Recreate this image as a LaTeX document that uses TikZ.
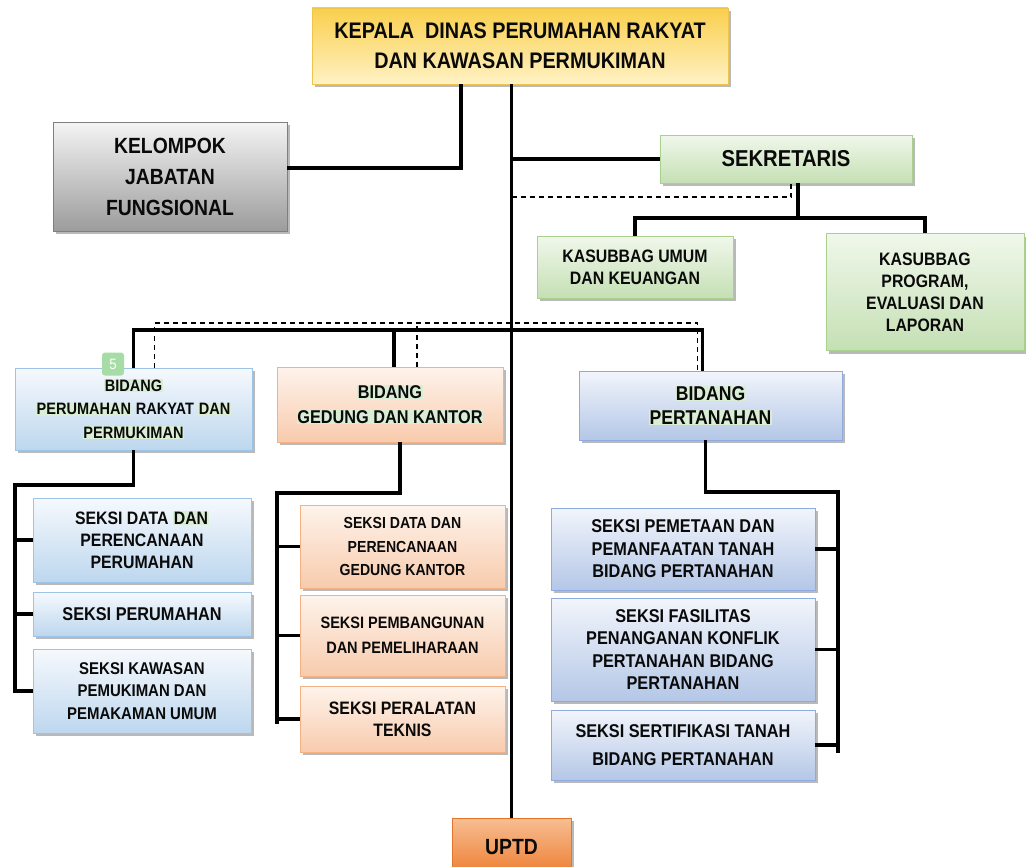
\documentclass[tikz,border=0pt]{standalone}
\usepackage{fontspec}
\setmainfont{Liberation Sans}[FakeStretch=0.88]
\usetikzlibrary{shadows}
\definecolor{txt}{HTML}{0A0A0A}
\definecolor{ylT}{HTML}{F9CF4C}
\definecolor{ylB}{HTML}{FFF2C4}
\definecolor{ylD}{HTML}{EFC44E}
\definecolor{gyT}{HTML}{F4F4F4}
\definecolor{gyB}{HTML}{9C9C9C}
\definecolor{gyD}{HTML}{7F7F7F}
\definecolor{grT}{HTML}{F0F7EB}
\definecolor{grB}{HTML}{C5E0B4}
\definecolor{grD}{HTML}{A9D18E}
\definecolor{blT}{HTML}{F6F9FD}
\definecolor{blB}{HTML}{BDD7EE}
\definecolor{blD}{HTML}{9DC3E6}
\definecolor{orT}{HTML}{FEF3EB}
\definecolor{orB}{HTML}{F8CBAD}
\definecolor{orD}{HTML}{F4B183}
\definecolor{puT}{HTML}{F2F5FB}
\definecolor{puB}{HTML}{B4C7E7}
\definecolor{puD}{HTML}{8FAADC}
\definecolor{upT}{HTML}{F7BE93}
\definecolor{upB}{HTML}{ED7D31}
\definecolor{upD}{HTML}{E2762C}
\definecolor{hlgreen}{HTML}{D9EED5}
\definecolor{badgegreen}{HTML}{A6DDA6}
\newcommand{\hlg}[1]{{\setlength{\fboxsep}{0.8pt}\colorbox{hlgreen}{#1}}}
\newcommand{\fs}[2]{\bfseries\fontsize{#1}{#2}\selectfont}
\tikzset{
  box/.style={draw, line width=0.9pt, align=center, inner sep=2pt, text=txt,
    drop shadow={shadow xshift=3pt, shadow yshift=-3pt, fill=black!50, opacity=0.55}},
  yellowbox/.style={box, draw=ylD, top color=ylT, bottom color=ylB},
  graybox/.style={box, draw=gyD, top color=gyT, bottom color=gyB},
  greenbox/.style={box, draw=grD, top color=grT, bottom color=grB},
  bluebox/.style={box, draw=blD, top color=blT, bottom color=blB},
  orangebox/.style={box, draw=orD, top color=orT, bottom color=orB},
  purplebox/.style={box, draw=puD, top color=puT, bottom color=puB},
  uptdbox/.style={box, draw=upD, top color=upT, bottom color=upB},
  conn/.style={line width=3.2pt, draw=black},
  dconn/.style={line width=1.5pt, draw=black, dash pattern=on 5pt off 4pt},
  badge/.style={fill=badgegreen, rounded corners=3pt, text=white, minimum width=22pt,
    minimum height=23pt, inner sep=0pt, font=\fontsize{15}{15}\selectfont}
}
\begin{document}
\begin{tikzpicture}[x=1pt,y=-1pt]
\clip (0,0) rectangle (1026,867);
\fill[white] (0,0) rectangle (1026,867);

% ---- nodes ----
\node[yellowbox, minimum width=416pt, minimum height=76pt, font=\fs{22.5}{30}] (kepala) at (520,46)
  {KEPALA~~DINAS PERUMAHAN RAKYAT\\DAN KAWASAN PERMUKIMAN};
\node[graybox, minimum width=234pt, minimum height=109pt, font=\fs{22}{31}] (kelompok) at (170,176.5)
  {KELOMPOK\\JABATAN\\FUNGSIONAL};
\node[greenbox, minimum width=252pt, minimum height=48pt, font=\fs{23}{28}] (sekretaris) at (786,159)
  {SEKRETARIS};
\node[greenbox, minimum width=196pt, minimum height=62pt, font=\fs{18}{22}] (kasumum) at (635,267)
  {KASUBBAG UMUM\\DAN KEUANGAN};
\node[greenbox, minimum width=198pt, minimum height=117pt, font=\fs{18}{22}] (kasprog) at (925,292)
  {KASUBBAG\\PROGRAM,\\EVALUASI DAN\\LAPORAN};

\node[bluebox, minimum width=237pt, minimum height=82pt, font=\fs{16.5}{23.5}] (bidperum) at (133.5,409)
  {\hlg{BIDANG}\\\hlg{PERUMAHAN} RAKYAT \hlg{DAN}\\\hlg{PERMUKIMAN}};
\node[orangebox, minimum width=226pt, minimum height=75pt, font=\fs{18.5}{25}] (bidgedung) at (390,404.5)
  {\hlg{BIDANG}\\\hlg{GEDUNG DAN KANTOR}};
\node[purplebox, minimum width=263pt, minimum height=69pt, font=\fs{20}{24}] (bidtanah) at (710.5,405.5)
  {\hlg{BIDANG}\\\hlg{PERTANAHAN}};

\node[bluebox, minimum width=218pt, minimum height=84pt, font=\fs{18}{22}] (L1) at (142,540)
  {SEKSI DATA \hlg{DAN}\\PERENCANAAN\\PERUMAHAN};
\node[bluebox, minimum width=218pt, minimum height=44pt, font=\fs{18.5}{22}] (L2) at (142,614)
  {SEKSI PERUMAHAN};
\node[bluebox, minimum width=218pt, minimum height=84pt, font=\fs{17}{22.5}] (L3) at (142,691)
  {SEKSI KAWASAN\\PEMUKIMAN DAN\\PEMAKAMAN UMUM};

\node[orangebox, minimum width=205pt, minimum height=83pt, font=\fs{16}{23.5}] (M1) at (402.5,546.5)
  {SEKSI DATA DAN\\PERENCANAAN\\GEDUNG KANTOR};
\node[orangebox, minimum width=205pt, minimum height=81pt, font=\fs{16.5}{25}] (M2) at (402.5,635.5)
  {SEKSI PEMBANGUNAN\\DAN PEMELIHARAAN};
\node[orangebox, minimum width=205pt, minimum height=66pt, font=\fs{18}{22}] (M3) at (402.5,719)
  {SEKSI PERALATAN\\TEKNIS};

\node[purplebox, minimum width=264pt, minimum height=82pt, font=\fs{18.5}{22.5}] (R1) at (683,549)
  {SEKSI PEMETAAN DAN\\PEMANFAATAN TANAH\\BIDANG PERTANAHAN};
\node[purplebox, minimum width=264pt, minimum height=103pt, font=\fs{18.5}{22.3}] (R2) at (683,649.5)
  {SEKSI FASILITAS\\PENANGANAN KONFLIK\\PERTANAHAN BIDANG\\PERTANAHAN};
\node[purplebox, minimum width=264pt, minimum height=70pt, font=\fs{18.5}{28}] (R3) at (683,745)
  {SEKSI SERTIFIKASI TANAH\\BIDANG PERTANAHAN};

\node[uptdbox, minimum width=119pt, minimum height=58pt, font=\fs{22}{26}] (uptd) at (511.5,847)
  {UPTD};

\node[badge] (b5) at (113,364) {5};

% ---- coordinates ----
\coordinate (jk) at (461,168);
\coordinate (dsek) at (791,197);
\coordinate (sb) at (798,218);
\coordinate (br) at (512,330);
\coordinate (dl) at (512,323);
\coordinate (lt) at (15,485);
\coordinate (lb) at (15,693);
\coordinate (mt) at (277,493);
\coordinate (mb) at (277,724);
\coordinate (rt) at (838,492);
\coordinate (rb) at (838,753);

% ---- connectors ----
\draw[conn] (kepala.south -| uptd.north) -- (uptd.north);
\draw[conn] (kepala.south -| jk) -- (jk) -- (kelompok.east |- jk);
\draw[conn] (sekretaris.west) -- (sekretaris.west -| uptd.north);
\draw[dconn] (dsek -| uptd.north) -- (dsek) -- (sekretaris.south -| dsek);
\draw[conn] (sekretaris.south -| sb) -- (sb);
\draw[conn] (kasumum.north) |- (sb) -| (kasprog.north);

\draw[conn] (bidperum.north) |- ([xshift=-8pt]bidtanah.north |- br) -- ([xshift=-8pt]bidtanah.north);
\draw[conn] ([xshift=4pt]bidgedung.north) -- ([xshift=4pt]bidgedung.north |- br);
\draw[dconn] ([xshift=21pt]bidperum.north) |- ([xshift=-13pt]bidtanah.north |- dl) -- ([xshift=-13pt]bidtanah.north);
\draw[dconn] ([xshift=27pt]bidgedung.north) -- ([xshift=27pt]bidgedung.north |- dl);

\draw[conn] (bidperum.south) |- (lt) -- (lb);
\draw[conn] (L1.west -| lt) -- (L1.west);
\draw[conn] (L2.west -| lt) -- (L2.west);
\draw[conn] (L3.west -| lt) -- (L3.west);

\draw[conn] ([xshift=10pt]bidgedung.south) |- (mt) -- (mb);
\draw[conn] (M1.west -| mt) -- (M1.west);
\draw[conn] (M2.west -| mt) -- (M2.west);
\draw[conn] (M3.west -| mt) -- (M3.west);

\draw[conn] ([xshift=-5pt]bidtanah.south) |- (rt) -- (rb);
\draw[conn] (R1.east -| rt) -- (R1.east);
\draw[conn] (R2.east -| rt) -- (R2.east);
\draw[conn] (R3.east -| rt) -- (R3.east);
\end{tikzpicture}
\end{document}
